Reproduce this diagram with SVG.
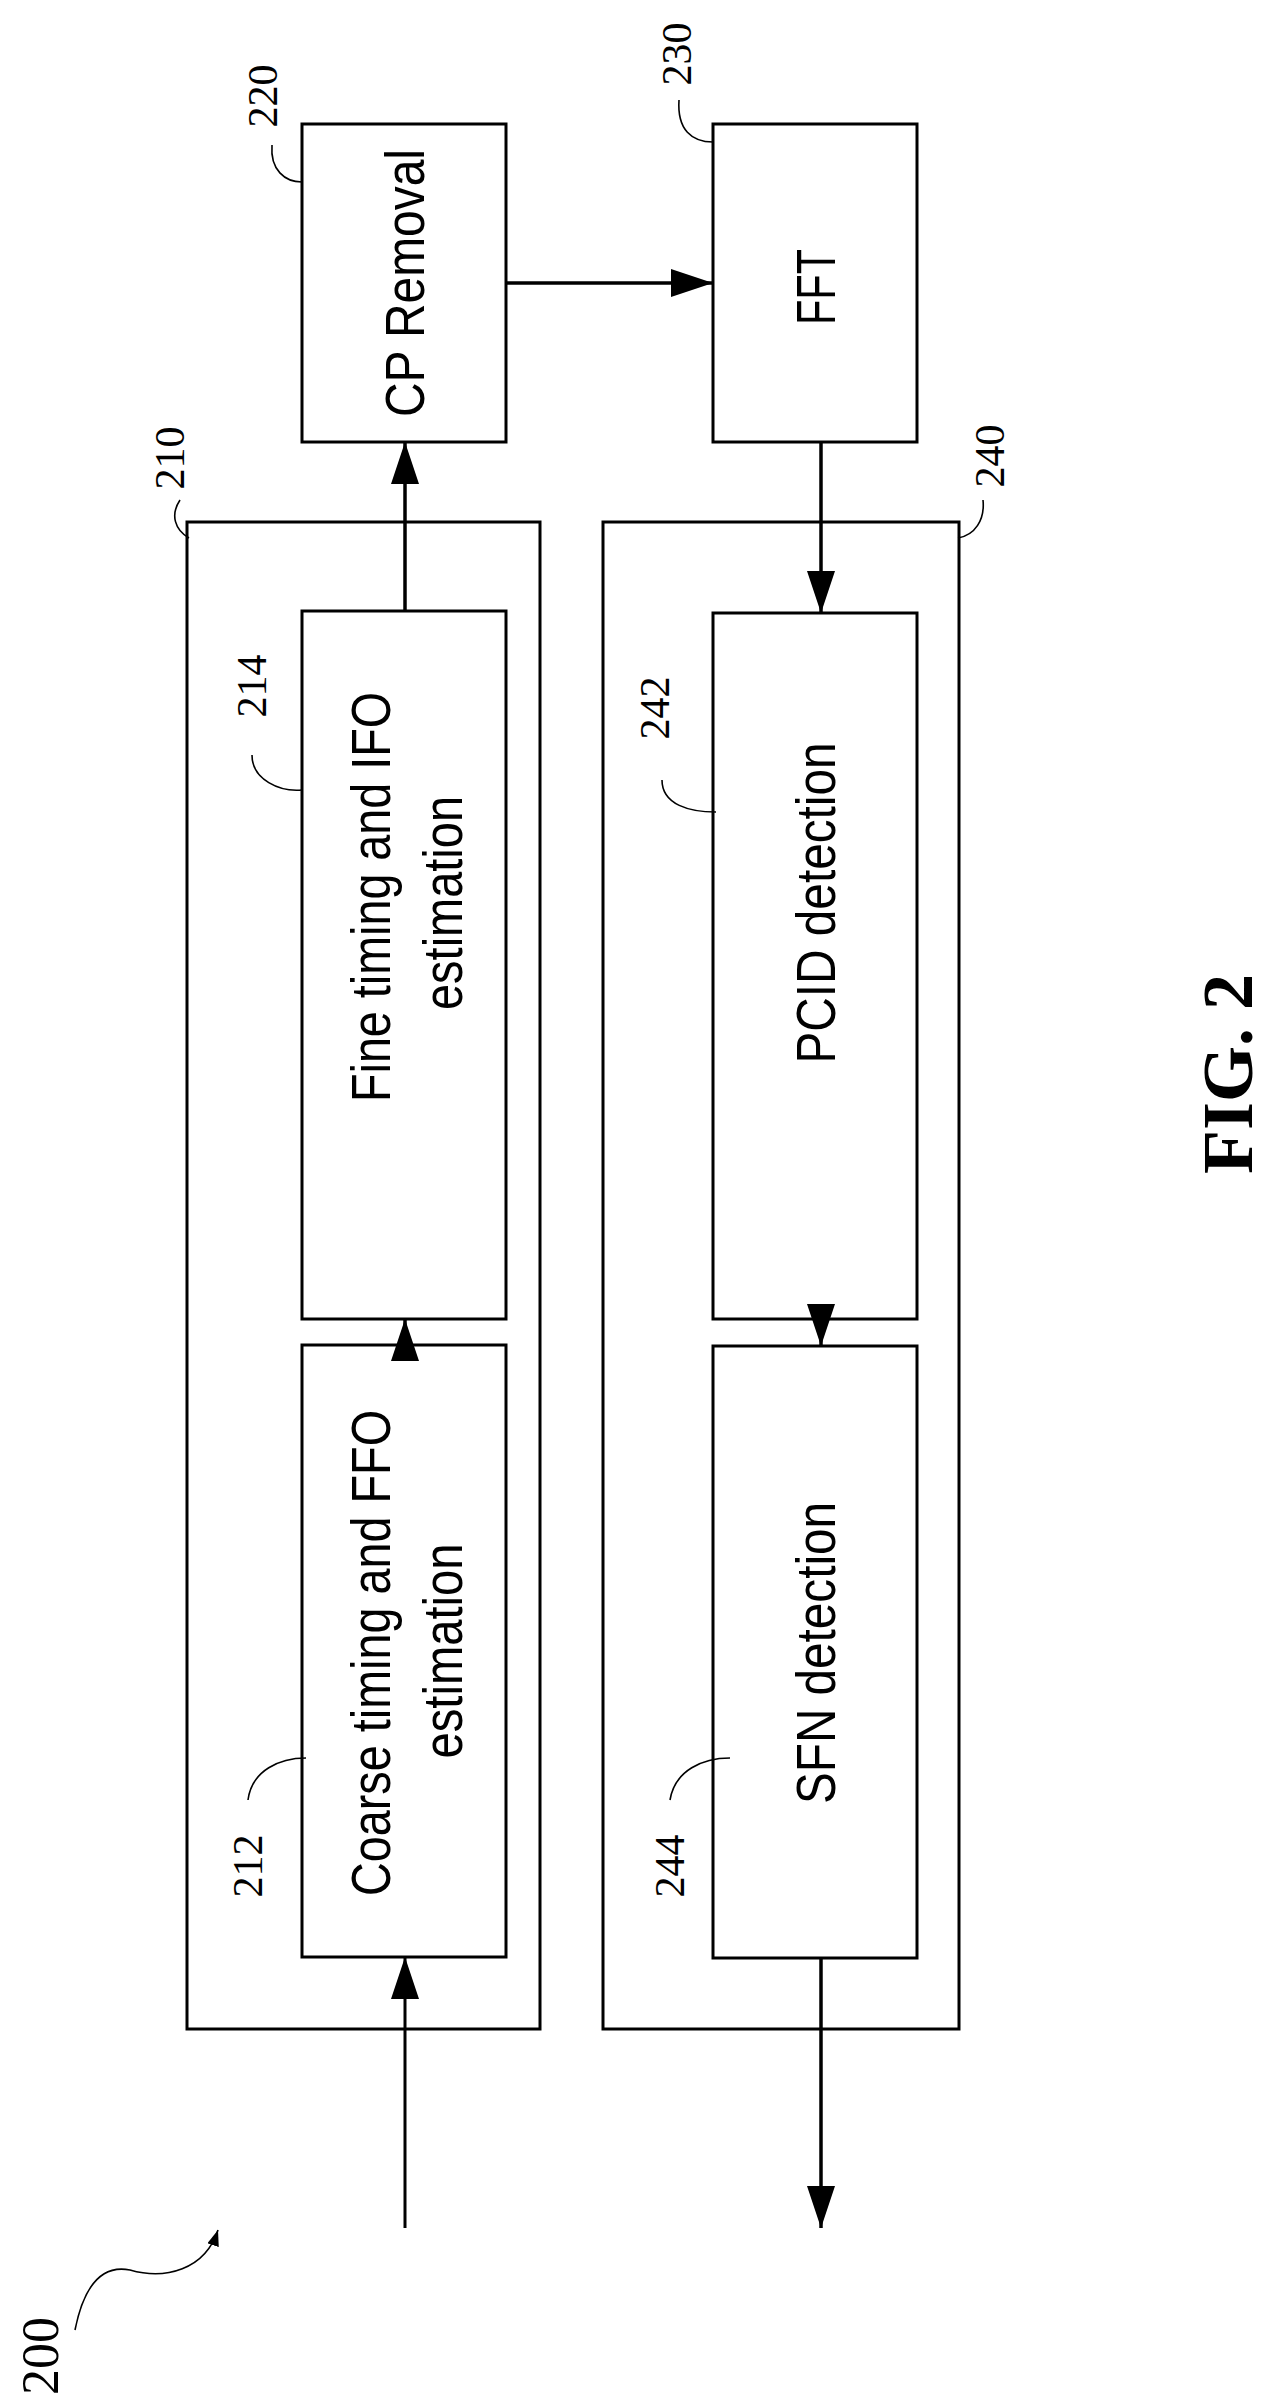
<svg xmlns="http://www.w3.org/2000/svg" width="1270" height="2404" viewBox="0 0 1270 2404">
<style>
.b{fill:none;stroke:#000;stroke-width:3}
.c{fill:none;stroke:#000;stroke-width:1.6}
.w{fill:none;stroke:#000;stroke-width:3.5}
.t{font-family:"Liberation Sans",Arial,sans-serif;font-size:56px;text-anchor:middle;dominant-baseline:central}
.n{font-family:"Liberation Serif","Times New Roman",serif;font-size:42px;text-anchor:middle;dominant-baseline:central}
</style>
<defs><marker id="a" viewBox="0 0 16 12" markerWidth="16" markerHeight="12" refX="16" refY="6" orient="auto" markerUnits="userSpaceOnUse"><path d="M0,0L16,6L0,12z"/></marker>
<marker id="A" viewBox="0 0 42 28" refX="42" refY="14" markerWidth="42" markerHeight="28" orient="auto" markerUnits="userSpaceOnUse"><path d="M0,0L42,14L0,28z"/></marker></defs>
<g id="n210"><rect class="b" x="187" y="522" width="353" height="1507"/><path class="c" d="M189,538 C175,530 170,515 180,500"/><text class="n" transform="rotate(-90 170 458)" x="170" y="458">210</text></g>
<g id="n240"><rect class="b" x="603" y="522" width="356" height="1507"/><path class="c" d="M958,538 C975,535 985,520 983,500"/><text class="n" transform="rotate(-90 990 456)" x="990" y="456">240</text></g>
<g id="n220"><rect class="b" x="302" y="124" width="204" height="318"/><text class="t" textLength="268" lengthAdjust="spacingAndGlyphs" transform="rotate(-90 404 283)" x="404" y="283">CP Removal</text><path class="c" d="M302,182 C285,182 270,170 272,145"/><text class="n" transform="rotate(-90 263 96)" x="263" y="96">220</text></g>
<g id="n230"><rect class="b" x="713" y="124" width="204" height="318"/><text class="t" textLength="76" lengthAdjust="spacingAndGlyphs" transform="rotate(-90 815 287)" x="815" y="287">FFT</text><path class="c" d="M713,142 C692,142 677,130 679,100"/><text class="n" transform="rotate(-90 677 54)" x="677" y="54">230</text></g>
<g id="n214"><rect class="b" x="302" y="611" width="204" height="708"/><text class="t" textLength="410" lengthAdjust="spacingAndGlyphs" transform="rotate(-90 370 897)" x="370" y="897">Fine timing and IFO</text><text class="t" textLength="214" lengthAdjust="spacingAndGlyphs" transform="rotate(-90 442 903)" x="442" y="903">estimation</text><path class="c" d="M302,790 C280,792 252,780 252,755"/><text class="n" transform="rotate(-90 252 686)" x="252" y="686">214</text></g>
<g id="n242"><rect class="b" x="713" y="613" width="204" height="706"/><text class="t" textLength="321" lengthAdjust="spacingAndGlyphs" transform="rotate(-90 815 903)" x="815" y="903">PCID detection</text><path class="c" d="M716,812 C690,812 662,805 662,780"/><text class="n" transform="rotate(-90 655 708)" x="655" y="708">242</text></g>
<g id="n212"><rect class="b" x="302" y="1345" width="204" height="612"/><text class="t" textLength="486" lengthAdjust="spacingAndGlyphs" transform="rotate(-90 370 1653)" x="370" y="1653">Coarse timing and FFO</text><text class="t" textLength="215" lengthAdjust="spacingAndGlyphs" transform="rotate(-90 442 1651)" x="442" y="1651">estimation</text><path class="c" d="M306,1758 C280,1758 252,1770 248,1800"/><text class="n" transform="rotate(-90 248 1866)" x="248" y="1866">212</text></g>
<g id="n244"><rect class="b" x="713" y="1346" width="204" height="612"/><text class="t" textLength="302" lengthAdjust="spacingAndGlyphs" transform="rotate(-90 815 1653)" x="815" y="1653">SFN detection</text><path class="c" d="M730,1758 C703,1758 675,1770 670,1800"/><text class="n" transform="rotate(-90 670 1866)" x="670" y="1866">244</text></g>
<g id="n200"><text class="n" style="font-size:52px" transform="rotate(-90 40 2356)" x="40" y="2356">200</text><path class="c" d="M75,2330 C85,2280 105,2265 130,2270 C165,2280 205,2270 218,2230" marker-end="url(#a)"/></g>
<text x="1228" y="1074" transform="rotate(-90 1228 1074)" style="font-family:'Liberation Serif',serif;font-weight:bold;font-size:72px;text-anchor:middle;dominant-baseline:central">FIG. 2</text>
<g id="connectors">
<line class="w" x1="506" y1="283" x2="713" y2="283" marker-end="url(#A)"/>
<line class="w" x1="405" y1="611" x2="405" y2="442" marker-end="url(#A)"/>
<line class="w" x1="405" y1="1345" x2="405" y2="1319" marker-end="url(#A)"/>
<line class="b" x1="405" y1="2228" x2="405" y2="1957" marker-end="url(#A)"/>
<line class="w" x1="821" y1="442" x2="821" y2="613" marker-end="url(#A)"/>
<line class="w" x1="821" y1="1319" x2="821" y2="1346" marker-end="url(#A)"/>
<line class="w" x1="821" y1="1958" x2="821" y2="2228" marker-end="url(#A)"/>
</g>
</svg>
